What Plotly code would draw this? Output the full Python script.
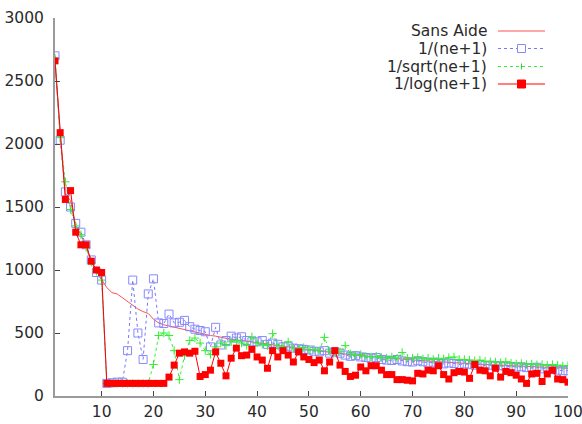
import plotly.graph_objects as go

x = list(range(1, 101))

sans_aide = [2650, 2080, 1600, 1550, 1350, 1280, 1180, 1070, 990, 930,
             860, 820, 810, 780, 750, 715, 690, 670, 655, 610,
             580, 565, 555, 545, 540, 530, 520, 510, 500, 490,
             480, 475, 465, 455, 450, 445, 440, 435, 430, 425,
             420, 410, 405, 400, 395, 390, 385, 378, 372, 368,
             362, 358, 352, 348, 342, 338, 333, 328, 324, 320,
             316, 312, 308, 305, 302, 298, 295, 292, 289, 286,
             283, 280, 277, 274, 271, 268, 266, 263, 261, 258,
             256, 254, 252, 250, 248, 246, 244, 242, 240, 238,
             236, 234, 232, 230, 228, 227, 225, 223, 221, 220]

inv_ne = [2700, 2030, 1620, 1500, 1370, 1300, 1200, 1080, 980, 920,
          100, 105, 110, 110, 360, 920, 500, 290, 810, 930,
          580, 575, 650, 580, 585, 600, 550, 530, 520, 510,
          390, 545, 405, 440, 475, 460, 470, 440, 430, 430,
          440, 410, 420, 410, 390, 395, 380, 375, 370, 365,
          355, 350, 360, 340, 350, 340, 325, 315, 320, 310,
          305, 300, 305, 290, 285, 282, 290, 278, 272, 270,
          280, 272, 262, 268, 258, 255, 262, 258, 250, 255,
          252, 245, 250, 240, 245, 238, 240, 232, 235, 230,
          232, 225, 222, 228, 215, 218, 210, 205, 200, 200]

inv_sqrt = [2680, 2050, 1700, 1480, 1350, 1280, 1180, 1060, 990, 920,
            100, 100, 100, 100, 100, 100, 100, 100, 100, 250,
            480, 500, 480, 360, 130, 320, 440, 460, 420, 360,
            330, 390, 420, 400, 430, 440, 420, 400, 470, 420,
            410, 400, 495, 400, 390, 430, 380, 375, 385, 365,
            370, 360, 465, 355, 345, 350, 400, 335, 325, 330,
            315, 310, 315, 305, 300, 310, 300, 345, 300, 300,
            305, 295, 300, 290, 300, 295, 305, 310, 290, 290,
            285, 280, 285, 275, 272, 270, 265, 272, 260, 255,
            258, 250, 255, 248, 250, 245, 250, 245, 240, 242]

inv_log = [2660, 2090, 1560, 1630, 1300, 1200, 1200, 1070, 1000, 980,
           100, 100, 100, 100, 100, 100, 100, 100, 100, 100,
           100, 100, 150, 245, 340, 350, 340, 355, 155, 170,
           205, 350, 260, 160, 300, 380, 320, 325, 370, 310,
           285, 220, 360, 310, 360, 325, 270, 350, 310, 290,
           265, 285, 200, 270, 360, 245, 195, 155, 165, 230,
           200, 240, 240, 205, 170, 170, 130, 130, 125, 120,
           180, 175, 205, 200, 240, 170, 135, 185, 195, 190,
           140, 250, 205, 200, 160, 220, 150, 195, 185, 165,
           135, 100, 175, 180, 115, 175, 205, 135, 130, 110]

series_names = ["Sans Aide", "1/(ne+1)", "1/sqrt(ne+1)", "1/log(ne+1)"]

x_ticks = list(range(10, 101, 10))
y_ticks = list(range(0, 3001, 500))

FONT = "DejaVu Sans, Verdana, sans-serif"
FS = 15.5
TXT = "#2a2a2a"

fig = go.Figure()

fig.add_trace(go.Scatter(x=x, y=sans_aide, mode="lines", name=series_names[0],
                         line=dict(color="#ff5050", width=1)))
fig.add_trace(go.Scatter(x=x, y=inv_ne, mode="lines+markers", name=series_names[1],
                         line=dict(color="#7777ff", width=1, dash="dot"),
                         marker=dict(symbol="square-open", size=8, color="#8888ff",
                                     line=dict(width=1, color="#8888ff"))))
fig.add_trace(go.Scatter(x=x, y=inv_sqrt, mode="lines+markers", name=series_names[2],
                         line=dict(color="#33ee33", width=1, dash="dot"),
                         marker=dict(symbol="cross-thin-open", size=6,
                                     line=dict(width=1, color="#22dd22"))))
fig.add_trace(go.Scatter(x=x, y=inv_log, mode="lines+markers", name=series_names[3],
                         line=dict(color="#ff0000", width=1),
                         marker=dict(symbol="square", size=7, color="#ff0000")))

# gnuplot-style legend: text right-aligned, sample to the right
PLOT_T, PLOT_H = 18, 378
PLOT_L, PLOT_W = 55, 513
def py(p):
    return 1 - (p - PLOT_T) / PLOT_H
def px(p):
    return (p - PLOT_L) / PLOT_W

rows_pix = [31, 48.5, 66.5, 84]
shapes = []
annotations = []
styles = [("#ff5050", "solid"), ("#7777ff", "dot"), ("#33ee33", "dot"), ("#ff0000", "solid")]
xl0, xl1, xm = px(498), px(545), px(521.5)
for i, name in enumerate(series_names):
    yy = py(rows_pix[i])
    annotations.append(dict(x=px(489), y=yy, xref="paper", yref="paper", text=name,
                            showarrow=False, xanchor="right", yanchor="middle",
                            font=dict(family=FONT, size=FS, color=TXT)))
    c, d = styles[i]
    shapes.append(dict(type="line", xref="paper", yref="paper", x0=xl0, x1=xl1,
                       y0=yy, y1=yy, line=dict(color=c, width=1, dash=d)))

dxp, dyp = 4 / PLOT_W, 4 / PLOT_H
shapes.append(dict(type="rect", xref="paper", yref="paper", x0=xm - dxp, x1=xm + dxp,
                   y0=py(rows_pix[1]) - dyp, y1=py(rows_pix[1]) + dyp,
                   line=dict(color="#8888ff", width=1), fillcolor="white"))
shapes.append(dict(type="line", xref="paper", yref="paper", x0=xm, x1=xm,
                   y0=py(rows_pix[2]) - 3 / PLOT_H, y1=py(rows_pix[2]) + 3 / PLOT_H,
                   line=dict(color="#22dd22", width=1)))
shapes.append(dict(type="rect", xref="paper", yref="paper", x0=xm - dxp, x1=xm + dxp,
                   y0=py(rows_pix[3]) - dyp, y1=py(rows_pix[3]) + dyp,
                   line=dict(color="#ff0000", width=1), fillcolor="#ff0000"))

fig.update_layout(
    width=582, height=424,
    margin=dict(l=PLOT_L, r=582 - PLOT_L - PLOT_W, t=PLOT_T, b=424 - PLOT_T - PLOT_H,
                autoexpand=False),
    paper_bgcolor="white", plot_bgcolor="white",
    showlegend=False,
    font=dict(family=FONT, size=FS, color=TXT),
    shapes=shapes, annotations=annotations,
    xaxis=dict(range=[1, 100], tickvals=x_ticks, ticktext=[str(v) for v in x_ticks],
               automargin=False, ticklabeloverflow="allow",
               showgrid=False, zeroline=False, showline=True, linecolor="#9a9a9a",
               linewidth=2, ticks="inside", ticklen=5, tickcolor="#444", tickwidth=1,
               tickfont=dict(family=FONT, size=FS, color=TXT)),
    yaxis=dict(range=[0, 3000], tickvals=y_ticks, ticktext=[str(v) for v in y_ticks],
               automargin=False, ticklabeloverflow="allow",
               showgrid=False, zeroline=False, showline=True, linecolor="#9a9a9a",
               linewidth=2, ticks="inside", ticklen=5, tickcolor="#444", tickwidth=1,
               ticklabelstandoff=6,
               tickfont=dict(family=FONT, size=FS, color=TXT)),
)

fig.write_html("out.html", config={"displayModeBar": False},
               post_script="document.body.style.margin='0';")
